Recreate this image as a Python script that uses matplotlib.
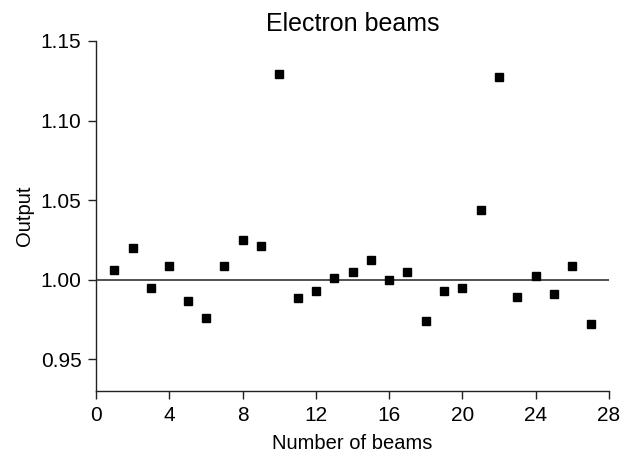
import matplotlib
matplotlib.use("Agg")
import matplotlib.pyplot as plt

plt.rcParams['font.family'] = ['Liberation Sans', 'DejaVu Sans']

beams = list(range(1, 28))
output = [1.006, 1.020, 0.995, 1.0086, 0.9864, 0.976, 1.0088, 1.025, 1.021,
          1.129, 0.9885, 0.993, 1.0008, 1.005, 1.0124, 0.9998, 1.0046, 0.974,
          0.993, 0.995, 1.0436, 1.1275, 0.9894, 1.0025, 0.9908, 1.0088, 0.972]
xticks = [0, 4, 8, 12, 16, 20, 24, 28]
yticks = [0.95, 1.00, 1.05, 1.10, 1.15]

fig = plt.figure(figsize=(6.34, 4.57), dpi=100)
ax = fig.add_axes([0.1514, 0.1444, 0.8092, 0.7659])

ax.axhline(1.0, color='#222222', lw=1.1, zorder=1)
ax.plot(beams, output, linestyle='none', marker='s', markersize=6.3,
        color='black', zorder=3)

ax.set_xlim(0, 28)
ax.set_ylim(0.93, 1.15)
ax.set_xticks(xticks)
ax.set_yticks(yticks)
ax.set_yticklabels([f"{v:.2f}" for v in yticks])

for s in ['top', 'right']:
    ax.spines[s].set_visible(False)
for s in ['left', 'bottom']:
    ax.spines[s].set_linewidth(1.0)
    ax.spines[s].set_color('#222222')

ax.tick_params(axis='both', direction='out', length=5.5, width=1.0,
               labelsize=15, color='#222222', pad=5)

ax.set_title("Electron beams", fontsize=18, pad=7)
ax.set_xlabel("Number of beams", fontsize=14.5, labelpad=7)
ax.set_ylabel("Output", fontsize=14.5, labelpad=5)

fig.savefig("out.png", dpi=100)
